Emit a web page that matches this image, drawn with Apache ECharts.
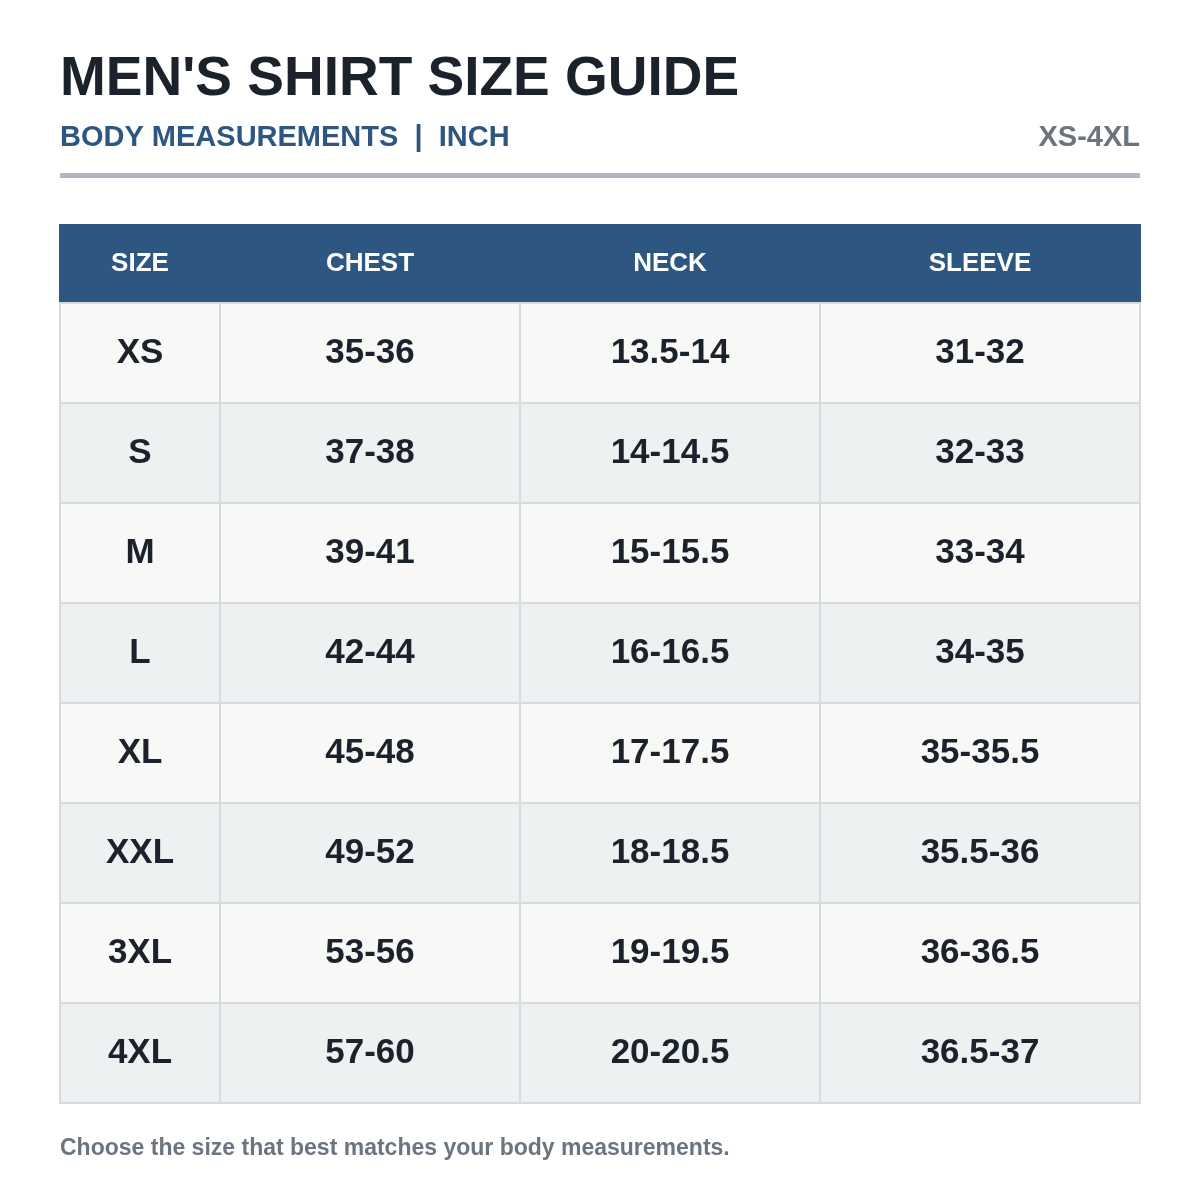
<!DOCTYPE html>
<html>
<head>
<meta charset="utf-8">
<script src="https://cdn.jsdelivr.net/npm/echarts@6/dist/echarts.min.js"></script>
<style>html,body{margin:0;padding:0;background:#fff}#main{width:1200px;height:1200px}</style>
</head>
<body>
<div id="main"></div>
<script>
// table data
const headers = ['SIZE', 'CHEST', 'NECK', 'SLEEVE']
const sizes = ['XS', 'S', 'M', 'L', 'XL', 'XXL', '3XL', '4XL']
const chest = ['35-36', '37-38', '39-41', '42-44', '45-48', '49-52', '53-56', '57-60']
const neck = ['13.5-14', '14-14.5', '15-15.5', '16-16.5', '17-17.5', '18-18.5', '19-19.5', '20-20.5']
const sleeve = ['31-32', '32-33', '33-34', '34-35', '35-35.5', '35.5-36', '36-36.5', '36.5-37']

// column edges (table units), header height, row height
const colEdges = [0, 160, 460, 760, 1080]
const headH = 78
const rowH = 100

const chart = echarts.init(document.getElementById('main'))

let cells = []
headers.forEach((h, c) => cells.push([c, -1, h]))
const cols = [sizes, chest, neck, sleeve]
cols.forEach((arr, c) => arr.forEach((v, r) => cells.push([c, r, v])))

function renderItem(params, api) {
  const c = api.value(0), r = api.value(1), txt = cells[params.dataIndex][2]
  const y0 = r < 0 ? 0 : headH + r * rowH
  const y1 = r < 0 ? headH : y0 + rowH
  const p0 = api.coord([colEdges[c], y0])
  const p1 = api.coord([colEdges[c + 1], y1])
  const isHead = r < 0
  return {
    type: 'group',
    children: [{
      type: 'rect',
      shape: { x: p0[0], y: p0[1], width: p1[0] - p0[0], height: p1[1] - p0[1] },
      style: {
        fill: isHead ? '#2d5681' : (r % 2 === 0 ? '#f8f9f7' : '#edf1f2'),
        stroke: isHead ? '#2d5681' : '#d6dbde',
        lineWidth: 2
      }
    }, {
      type: 'text',
      x: (p0[0] + p1[0]) / 2,
      y: (p0[1] + p1[1]) / 2,
      style: {
        text: txt,
        align: 'center',
        verticalAlign: 'middle',
        fill: isHead ? '#ffffff' : '#1b222b',
        font: isHead ? 'bold 26px "Liberation Sans", Arial' : 'bold 35px "Liberation Sans", Arial'
      }
    }]
  }
}

let option = {
  animation: false,
  backgroundColor: '#ffffff',
  grid: { left: 60, top: 225, width: 1080, height: 878 },
  xAxis: { type: 'value', min: 0, max: 1080, show: false },
  yAxis: { type: 'value', min: 0, max: 878, inverse: true, show: false },
  graphic: [
    { type: 'text', left: 60, top: 52, style: { text: "MEN'S SHIRT SIZE GUIDE", fill: '#1b222b', font: 'bold 55px "Liberation Sans", Arial' } },
    { type: 'text', left: 60, top: 123, style: { text: 'BODY MEASUREMENTS  |  INCH', fill: '#2d5681', font: 'bold 29px "Liberation Sans", Arial' } },
    { type: 'text', right: 60, top: 123, style: { text: 'XS-4XL', fill: '#6b7580', font: 'bold 29px "Liberation Sans", Arial' } },
    { type: 'rect', left: 60, top: 173, shape: { width: 1080, height: 5 }, style: { fill: '#adb6c1' } },
    { type: 'text', left: 60, top: 1137, style: { text: 'Choose the size that best matches your body measurements.', fill: '#6b7580', font: 'bold 23px "Liberation Sans", Arial' } }
  ],
  series: [{
    type: 'custom',
    renderItem: renderItem,
    data: cells.map(d => [d[0], d[1]])
  }]
}
chart.setOption(option)
</script>
</body>
</html>
